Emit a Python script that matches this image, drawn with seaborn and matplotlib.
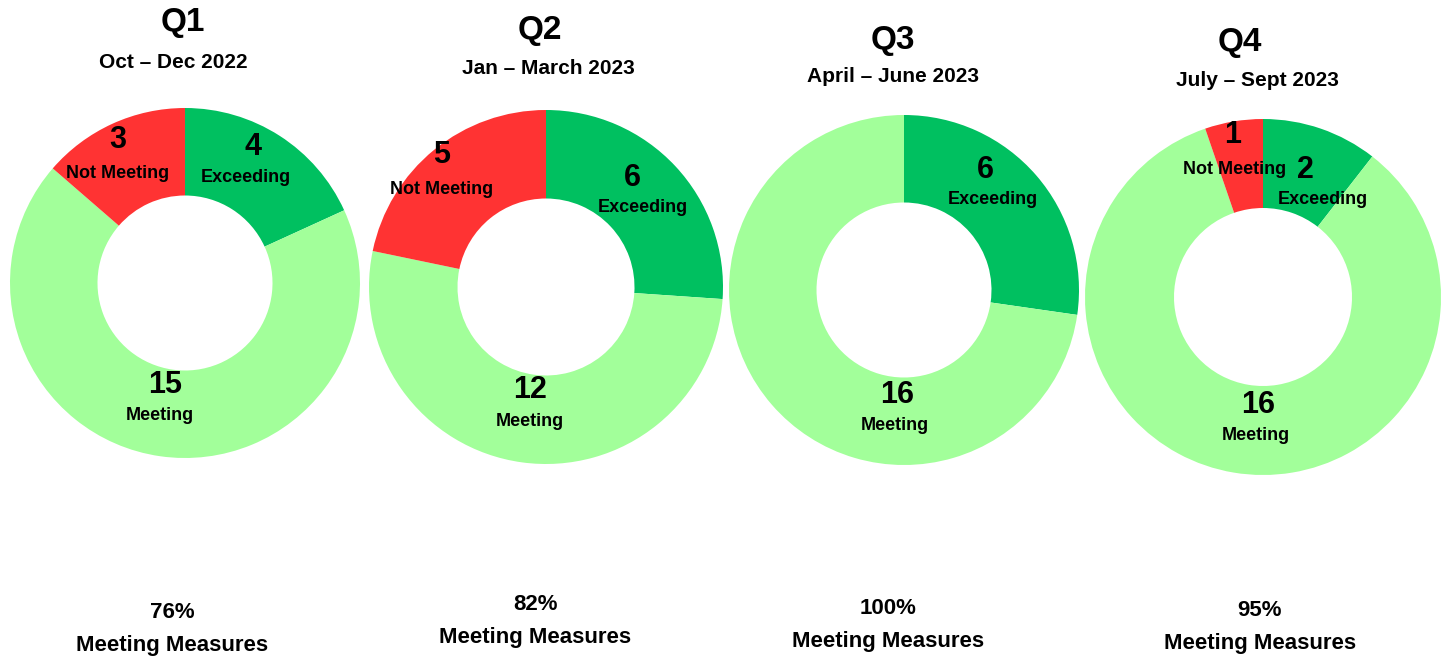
import matplotlib
matplotlib.use('Agg')
import matplotlib.pyplot as plt
import seaborn as sns

# DATA
quarters = ['Q1', 'Q2', 'Q3', 'Q4']
periods = ['Oct – Dec 2022', 'Jan – March 2023', 'April – June 2023', 'July – Sept 2023']
categories = ['Exceeding', 'Meeting', 'Not Meeting']
exceeding = [4, 6, 6, 2]
meeting = [15, 12, 16, 16]
not_meeting = [3, 5, 0, 1]
pct_meeting = ['76%', '82%', '100%', '95%']

colors = {'Exceeding': '#00C060', 'Meeting': '#A2FF9A', 'Not Meeting': '#FF3333'}
bg = '#FBFDF0'

sns.set_theme(style='white')
plt.rcParams['font.family'] = ['Liberation Sans Narrow', 'Liberation Sans', 'DejaVu Sans']
plt.rcParams['font.weight'] = 'bold'

W, H = 1443, 660
fig = plt.figure(figsize=(W / 100, H / 100), dpi=100)
fig.patch.set_facecolor('white')

# layout in pixels: background box (l, t, r, b), donut centre, radius
boxes = [(3, 98, 363, 458), (362, 107, 725, 468), (725, 110, 1082, 468), (1082, 108, 1443, 482)]
centres = [(185, 283), (546, 287), (904, 290), (1263, 297)]
radii = [175, 177, 175, 178]
title_pos = [(183, 22), (540, 30), (893, 40), (1240, 42)]
sub_pos = [(173, 62), (548, 68), (893, 77), (1257, 80)]
bottom_pos = [(172, 612), (535, 605), (888, 608), (1260, 610)]
# label block positions (number, word) per quarter & category
label_pos = [
    {'Exceeding': (253, 147), 'Meeting': (165, 385), 'Not Meeting': (118, 140)},
    {'Exceeding': (632, 178), 'Meeting': (530, 390), 'Not Meeting': (442, 155)},
    {'Exceeding': (985, 170), 'Meeting': (897, 395), 'Not Meeting': None},
    {'Exceeding': (1305, 170), 'Meeting': (1258, 405), 'Not Meeting': (1233, 135)},
]
word_shift = {'Exceeding': 30, 'Meeting': 31, 'Not Meeting': 34}
word_dx = [{'Exceeding': -7, 'Meeting': -5, 'Not Meeting': 0},
           {'Exceeding': 11, 'Meeting': 0, 'Not Meeting': 0},
           {'Exceeding': 8, 'Meeting': -2, 'Not Meeting': 0},
           {'Exceeding': 18, 'Meeting': -2, 'Not Meeting': 2}]


def ftext(x, y, s, size, **kw):
    fig.text(x / W, 1 - y / H, s, fontsize=size, fontweight='bold',
             ha='center', va='center', color='black', **kw)


for i, q in enumerate(quarters):
    l, t, r, b = boxes[i]
    cx, cy = centres[i]
    R = radii[i]
    ax = fig.add_axes([l / W, 1 - b / H, (r - l) / W, (b - t) / H])
    ax.set_facecolor(bg)
    vals = [exceeding[i], meeting[i], not_meeting[i]]
    ax.pie(vals, colors=[colors[c] for c in categories], startangle=90,
           counterclock=False, radius=1, wedgeprops=dict(width=0.5, linewidth=0))
    ax.set_xlim((l - cx) / R, (r - cx) / R)
    ax.set_ylim((cy - b) / R, (cy - t) / R)
    ax.set_aspect('auto')
    for s in ax.spines.values():
        s.set_visible(False)

    ftext(*title_pos[i], q, 24)
    ftext(*sub_pos[i], periods[i], 15)

    for c, v in zip(categories, vals):
        pos = label_pos[i][c]
        if v == 0 or pos is None:
            continue
        ftext(pos[0], pos[1], str(v), 22)
        ftext(pos[0] + word_dx[i][c], pos[1] + word_shift[c], c, 13)

    bx, by = bottom_pos[i]
    ftext(bx, by, pct_meeting[i], 16)
    ftext(bx, by + 33, 'Meeting Measures', 16)

fig.savefig('out.png', dpi=100, facecolor='white')
